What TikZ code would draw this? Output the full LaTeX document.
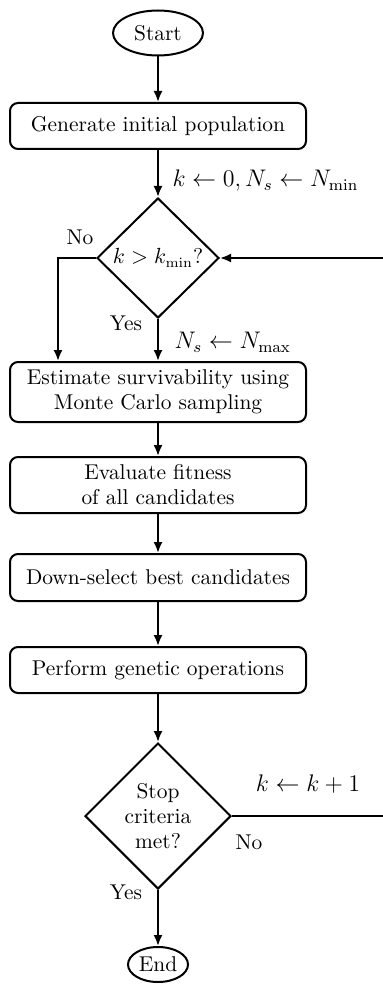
\documentclass[tikz,border=0pt]{standalone}
\usetikzlibrary{shapes.geometric,arrows.meta}

\tikzset{every picture/.style={line width=1pt}}
\tikzset{
	every node/.style={font=\fontsize{10.7pt}{12.5pt}\selectfont},
	terminal/.style={draw, ellipse, inner sep=0pt},
	process/.style={draw, rounded corners=4pt, minimum width=148pt, align=center, inner sep=0pt},
	decision/.style={draw, diamond, aspect=1, inner sep=0pt, align=center},
	flow/.style={-{Latex[length=5.5pt,width=4.5pt]}},
	lbl/.style={inner sep=0.75pt},
	mlbl/.style={inner sep=0.75pt, font=\fontsize{11.8pt}{14pt}\selectfont}
}

\begin{document}
\begin{tikzpicture}[x=0.5pt,y=0.5pt,yscale=-1,xscale=1]
	\useasboundingbox (0,0) rectangle (383,984);
	
	% Shapes
	\node [terminal, minimum width=45pt, minimum height=22.5pt] (start) at (158,33) {Start};
	\node [process, minimum height=23pt] (gen) at (158,126) {Generate initial population};
	\node [decision, minimum width=61pt, minimum height=60pt] (d1) at (158,258) {$k>k_{\min}$?};
	\node [process, minimum height=30pt] (est) at (158,392) {Estimate survivability using\\ Monte Carlo sampling};
	\node [process, minimum height=28pt] (eval) at (158,485) {Evaluate fitness\\ of all candidates};
	\node [process, minimum height=23.5pt] (down) at (158,577.5) {Down-select best candidates};
	\node [process, minimum height=23pt] (perf) at (158,670) {Perform genetic operations};
	\node [decision, minimum width=73pt, minimum height=73pt] (d2) at (158,816) {Stop\\ criteria\\ met?};
	\node [terminal, minimum width=30pt, minimum height=17.5pt] (end) at (158,964.5) {End};
	
	% Helper points
	\coordinate (nobend) at (58,258);
	\coordinate (loop) at (387,816);
	
	%Straight Lines
	\draw [flow] (start) -- (gen);
	\draw [flow] (gen) -- (d1);
	\draw [flow] (d1) -- (est);
	\draw [flow] (d1.west) -- (nobend) -- (nobend |- est.north);
	\draw [flow] (est) -- (eval);
	\draw [flow] (eval) -- (down);
	\draw [flow] (down) -- (perf);
	\draw [flow] (perf) -- (d2);
	\draw [flow] (d2) -- (end);
	\draw [flow] (d2.east) -- (loop) |- (d1.east);
	
	% Text Node
	\node [mlbl, anchor=west] (init) at (170,181) {$k \leftarrow 0, N_s \leftarrow N_{\min}$};
	% Text Node
	\node [lbl] (no1) at (80,237) {No};
	% Text Node
	\node [lbl] (yes1) at (126,323) {Yes};
	% Text Node
	\node [mlbl, anchor=west] (nmax) at (172,342) {$N_s \leftarrow N_{\max}$};
	% Text Node
	\node [mlbl] (inc) at (308,784) {$k \leftarrow k+1$};
	% Text Node
	\node [lbl] (no2) at (249,842) {No};
	% Text Node
	\node [lbl] (yes2) at (126,892) {Yes};
	
\end{tikzpicture}
\end{document}
